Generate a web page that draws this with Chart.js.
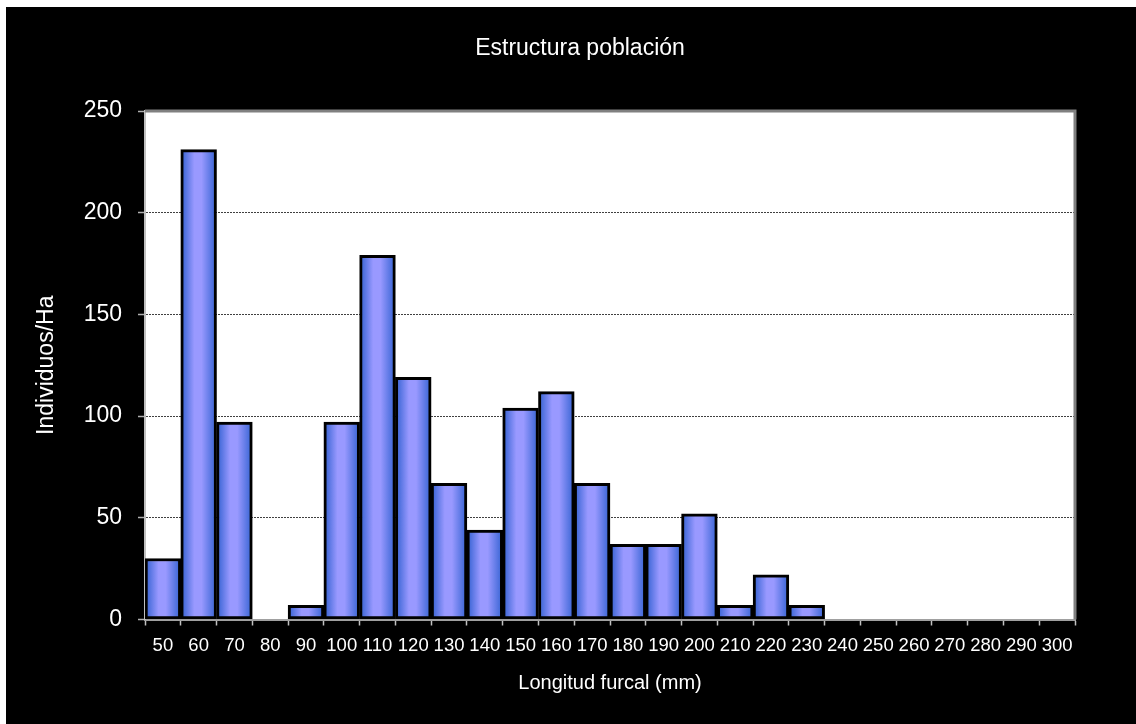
<!DOCTYPE html>
<html lang="es">
<head>
<meta charset="UTF-8">
<title>Estructura población</title>
<script src="https://cdn.jsdelivr.net/npm/chart.js@4"></script>
<style>
    html, body {
        margin: 0;
        padding: 0;
        background: #ffffff;
        width: 1136px;
        height: 724px;
        overflow: hidden;
    }
    #graficoPoblacion {
        position: absolute;
        left: 6px;
        top: 7px;
        background: #000000;
    }
</style>
</head>
<body>
<canvas id="graficoPoblacion" width="1130" height="717"></canvas>
<script>
// clases de longitud furcal (mm)
let clases = ["50", "60", "70", "80", "90", "100", "110", "120", "130", "140", "150", "160", "170",
              "180", "190", "200", "210", "220", "230", "240", "250", "260", "270", "280", "290", "300"];

// individuos por hectárea
let individuos = [30, 231, 97, 0, 7, 97, 179, 119, 67, 44, 104, 112, 67,
                  37, 37, 52, 7, 22, 7, 0, 0, 0, 0, 0, 0, 0];

let ticksY = [0, 50, 100, 150, 200, 250];

const fuente = "'Liberation Sans', Arial, sans-serif";

document.addEventListener("DOMContentLoaded", () => {
    generarGrafico();
});

function rellenoBarra(contexto) {
    const chart = contexto.chart;
    const escalaX = chart.scales.x;
    if (!chart.chartArea || !escalaX) {
        return "#9999ff";
    }
    const ancho = escalaX.width / clases.length;
    const centro = escalaX.getPixelForValue(contexto.dataIndex);
    const grad = chart.ctx.createLinearGradient(centro - ancho / 2, 0, centro + ancho / 2, 0);
    grad.addColorStop(0, "#2f5fd0");
    grad.addColorStop(0.38, "#9999ff");
    grad.addColorStop(0.58, "#9999ff");
    grad.addColorStop(1, "#3362d2");
    return grad;
}

// fondo blanco del área de trazado y marco gris arriba/derecha
const marcoArea = {
    id: "marcoArea",
    beforeDraw(chart) {
        const { ctx, chartArea } = chart;
        ctx.save();
        ctx.fillStyle = "#ffffff";
        ctx.fillRect(chartArea.left, chartArea.top, chartArea.width, chartArea.height);
        ctx.restore();
    },
    afterDraw(chart) {
        const { ctx, chartArea } = chart;
        ctx.save();
        ctx.strokeStyle = "#808080";
        ctx.lineWidth = 3;
        ctx.beginPath();
        ctx.moveTo(chartArea.left, chartArea.top);
        ctx.lineTo(chartArea.right, chartArea.top);
        ctx.lineTo(chartArea.right, chartArea.bottom);
        ctx.stroke();
        ctx.restore();
    }
};

function generarGrafico() {
    const ctx = document.getElementById("graficoPoblacion").getContext("2d");

    new Chart(ctx, {
        type: "bar",
        data: {
            labels: clases,
            datasets: [{
                label: "Individuos/Ha",
                data: individuos,
                backgroundColor: rellenoBarra,
                borderColor: "#000000",
                borderWidth: 3,
                borderSkipped: false,
                barPercentage: 1,
                categoryPercentage: 1
            }]
        },
        options: {
            responsive: false,
            animation: false,
            layout: {
                padding: { left: 18, right: 0, top: 0, bottom: 0 }
            },
            plugins: {
                legend: { display: false },
                tooltip: { enabled: false },
                title: {
                    display: true,
                    text: "Estructura población",
                    color: "#ffffff",
                    font: { family: fuente, size: 23, weight: "normal" },
                    padding: { top: 28, bottom: 48.4 }
                }
            },
            scales: {
                x: {
                    offset: true,
                    grid: {
                        offset: true,
                        drawOnChartArea: false,
                        drawTicks: true,
                        tickLength: 6,
                        tickColor: "#c0c0c0",
                        tickWidth: 1.5,
                        tickBorderDash: []
                    },
                    border: { display: true, color: "#a0a0a0", width: 2 },
                    ticks: {
                        color: "#ffffff",
                        font: { family: fuente, size: 18.5 },
                        padding: 9,
                        maxRotation: 0,
                        minRotation: 0,
                        autoSkip: false
                    },
                    title: {
                        display: true,
                        text: "Longitud furcal (mm)",
                        color: "#ffffff",
                        font: { family: fuente, size: 20 },
                        padding: { top: 0, bottom: 29 }
                    },
                    afterFit(escala) {
                        escala.height = 104.5;
                    }
                },
                y: {
                    min: 0,
                    max: 250,
                    afterBuildTicks(escala) {
                        escala.ticks = ticksY.map(v => ({ value: v }));
                    },
                    grid: {
                        color: "#404040",
                        lineWidth: 1,
                        drawTicks: true,
                        tickLength: 7,
                        tickColor: "#b0b0b0",
                        tickWidth: 1.5,
                        tickBorderDash: []
                    },
                    border: { display: true, color: "#c0c0c0", width: 2, dash: [2, 1] },
                    ticks: {
                        color: "#ffffff",
                        font: { family: fuente, size: 23 },
                        padding: 16
                    },
                    title: {
                        display: true,
                        text: "Individuos/Ha",
                        color: "#ffffff",
                        font: { family: fuente, size: 23 },
                        padding: { top: 9, bottom: 0 }
                    },
                    afterFit(escala) {
                        escala.width = 121;
                    }
                },
                derecha: {
                    type: "linear",
                    position: "right",
                    display: true,
                    grid: { display: false },
                    border: { display: false },
                    ticks: { display: false },
                    afterFit(escala) {
                        escala.width = 61;
                    }
                }
            }
        },
        plugins: [marcoArea]
    });
}
</script>
</body>
</html>
